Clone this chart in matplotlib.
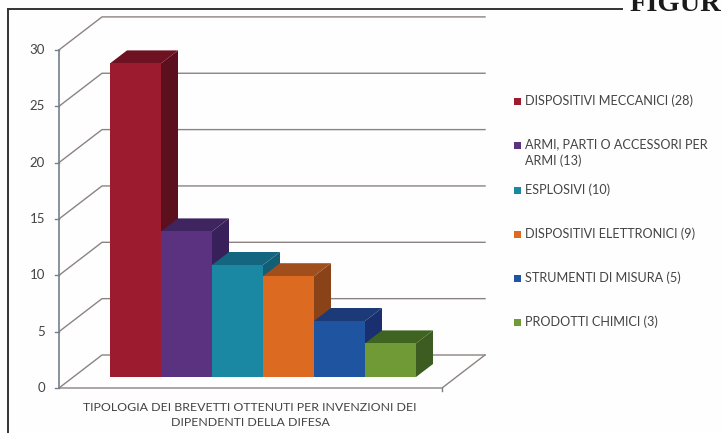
import matplotlib
matplotlib.use('Agg')
import matplotlib.pyplot as plt
from matplotlib.patches import Polygon, Rectangle

categories = ['DISPOSITIVI MECCANICI', 'ARMI, PARTI O ACCESSORI PER\nARMI', 'ESPLOSIVI',
              'DISPOSITIVI ELETTRONICI', 'STRUMENTI DI MISURA', 'PRODOTTI CHIMICI']
values = [28, 13, 10, 9, 5, 3]
front_colors = ['#9c1b2e', '#5a3280', '#1a87a3', '#dc6a20', '#1f55a0', '#6f9a35']
side_colors = ['#5c0f1c', '#38205a', '#125f75', '#8a4218', '#1a2f70', '#3c5c22']
top_colors = ['#6e1222', '#3e2560', '#14657f', '#a04e1c', '#1c3a78', '#3f6422']
y_ticks = [0, 5, 10, 15, 20, 25, 30]
x_label = 'TIPOLOGIA DEI BREVETTI OTTENUTI PER INVENZIONI DEI\nDIPENDENTI DELLA DIFESA'
legend_y = [101, 145, 190, 234, 278, 322]

W, H = 723, 433
plt.rcParams['font.family'] = ['Lato', 'DejaVu Sans']

# x in bar widths (51 px), y in value units (11.2 px), so bars use data coordinates
PX_X, PX_Y = 51.0, 11.2
fig = plt.figure(figsize=(W / 100, H / 100), dpi=100, facecolor='#fefefe')
ax = fig.add_axes([0, 0, 1, 1])
ax.set_xlim(-110 / PX_X, (W - 110) / PX_X)
ax.set_ylim((377 - H) / PX_Y, 377 / PX_Y)
ax.axis('off')

# offsets of the fake 3D box
floor_y = -11 / PX_Y
wall_dx, wall_dy = 43 / PX_X, 33 / PX_Y
bar_dx, bar_dy = 17 / PX_X, 13 / PX_Y
left_x = -51 / PX_X
right_x = 332 / PX_X
grid_color = '#8b8381'
axis_color = '#76808c'

# grid on the walls
for t in y_ticks:
    yf = floor_y + t * 11.27 / PX_Y
    ax.plot([left_x, left_x + wall_dx, right_x + wall_dx],
            [yf, yf + wall_dy, yf + wall_dy], color=grid_color, lw=1.0, zorder=1)
    ax.plot([left_x - 4 / PX_X, left_x], [yf, yf], color=axis_color, lw=1.0, zorder=2)
    ax.text(left_x - 14 / PX_X, yf, str(t), ha='right', va='center', fontsize=9.5, color='#444444')

# floor and y axis
ax.plot([left_x, right_x, right_x + wall_dx], [floor_y, floor_y, floor_y + wall_dy],
        color=grid_color, lw=1.0, zorder=2)
ax.plot([left_x, left_x], [floor_y, floor_y + 30 * 11.27 / PX_Y], color=axis_color, lw=1.2, zorder=2)
ax.plot([right_x, right_x], [floor_y, floor_y - 3 / PX_Y], color=axis_color, lw=1.0, zorder=2)

# bars left to right, the next front hides the side of the previous one
for i, v in enumerate(values):
    ax.add_patch(Polygon([(i + 1, 0), (i + 1 + bar_dx, bar_dy), (i + 1 + bar_dx, v + bar_dy), (i + 1, v)],
                         facecolor=side_colors[i], edgecolor='none', zorder=3))
    ax.add_patch(Polygon([(i, v), (i + bar_dx, v + bar_dy), (i + 1 + bar_dx, v + bar_dy), (i + 1, v)],
                         facecolor=top_colors[i], edgecolor='none', zorder=3))
    ax.add_patch(Rectangle((i, 0), 1, v, facecolor=front_colors[i], edgecolor='none', zorder=3))

ax.text(140 / PX_X, floor_y - 27 / PX_Y, x_label, ha='center', va='center', fontsize=8.95,
        color='#444444', linespacing=1.4)

# legend
for name, v, c, py in zip(categories, values, front_colors, legend_y):
    fig.patches.append(Rectangle((514 / W, 1 - (py + 3.5) / H), 7 / W, 7 / H,
                                 transform=fig.transFigure, facecolor=c, edgecolor='none'))
    two_lines = '\n' in name
    fig.text(525 / W, 1 - (py - 7 if two_lines else py) / H, f'{name} ({v})', ha='left',
             va='top' if two_lines else 'center', fontsize=9.1, color='#444444', linespacing=1.4)

# page frame and heading, the scan cuts the heading at the top
frame_color = '#333333'
fig.add_artist(plt.Line2D([8 / W, 8 / W], [0, 1 - 9 / H], color=frame_color, lw=1.4))
fig.add_artist(plt.Line2D([8 / W, 622 / W], [1 - 9 / H, 1 - 9 / H], color=frame_color, lw=1.4))
fig.text(630 / W, 1 - 11 / H, 'FIGUR', family='Liberation Serif', weight='bold', fontsize=20.5,
         color='#1a1a1a', ha='left', va='baseline')

fig.savefig('out.png', dpi=100, facecolor=fig.get_facecolor())
